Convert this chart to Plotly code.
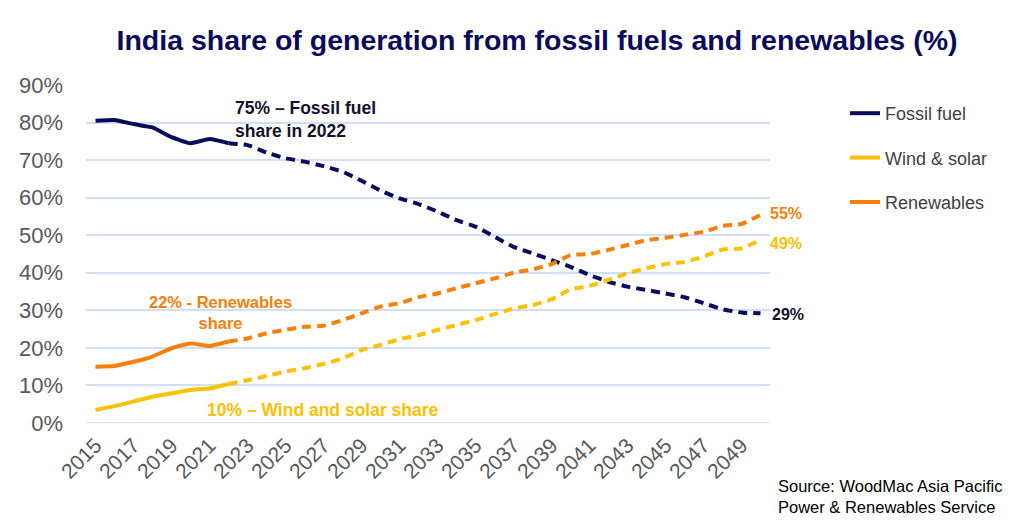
import plotly.graph_objects as go

years = list(range(2015, 2051))
fossil = [80.5, 80.7, 79.6, 78.7, 76.1, 74.5, 75.6, 74.5,
          74.0, 72.0, 70.5, 69.6, 68.4, 66.9, 64.5, 61.9, 59.8, 58.3,
          56.3, 54.0, 52.3, 49.6, 46.9, 45.2, 43.4, 41.6, 39.4, 37.6,
          36.3, 35.4, 34.5, 33.5, 31.9, 30.3, 29.4, 29.2]
wind_solar = [3.5, 4.5, 5.7, 7.0, 7.9, 8.8, 9.2, 10.4,
              11.4, 12.5, 13.7, 14.6, 15.7, 17.2, 19.4, 20.8, 22.3, 23.4,
              24.8, 26.1, 27.4, 29.0, 30.5, 31.4, 32.9, 35.6, 36.5, 38.1,
              39.9, 41.2, 42.3, 42.9, 44.3, 46.2, 46.5, 48.7]
renewables = [15.0, 15.2, 16.3, 17.7, 19.9, 21.2, 20.5, 21.7,
              22.5, 23.9, 24.8, 25.6, 25.9, 27.4, 29.2, 31.0, 31.9, 33.5,
              34.5, 35.9, 37.2, 38.5, 40.0, 40.9, 42.3, 44.7, 45.0, 46.1,
              47.4, 48.7, 49.3, 50.1, 50.9, 52.5, 53.0, 55.4]
series_names = ["Fossil fuel", "Wind & solar", "Renewables"]
tick_years = list(range(2015, 2050, 2))
y_ticks = list(range(0, 91, 10))
y_labels = [f"{v}%" for v in y_ticks]

NAVY = "#0b0b5c"
YELLOW = "#ffc000"
ORANGE = "#f88008"
split = years.index(2022)

# page has an 8px body margin: lay out relative to that offset
OFF = 8
W, H = 1015 - OFF, 531 - OFF
PL, PR, PT, PB = 86 - OFF, 770 - OFF, 85 - OFF, 423 - OFF  # plot area in figure pixels

fig = go.Figure()
for name, vals, col in zip(series_names, [fossil, wind_solar, renewables], [NAVY, YELLOW, ORANGE]):
    fig.add_trace(go.Scatter(
        x=years[:split + 1], y=vals[:split + 1], mode="lines", name=name,
        line=dict(color=col, width=4, shape="spline", smoothing=0.4),
        legendgroup=name, showlegend=True, hoverinfo="skip"))
    fig.add_trace(go.Scatter(
        x=years[split:], y=vals[split:], mode="lines", name=name,
        line=dict(color=col, width=4, dash="9px,6px", shape="spline", smoothing=0.4),
        legendgroup=name, showlegend=False, hoverinfo="skip"))

FONT = "Liberation Sans, Arial, sans-serif"
ann = [
    dict(text="<b>75% – Fossil fuel<br>share in 2022</b>", x=2022.25, y=80.8, xanchor="left",
         yanchor="middle", align="left", font=dict(size=17.5, color="#12122e")),
    dict(text="<b>22% - Renewables<br>share</b>", x=2021.6, y=29.5, xanchor="center",
         yanchor="middle", align="center", font=dict(size=16.5, color=ORANGE)),
    dict(text="<b>10% – Wind and solar share</b>", x=2026.97, y=3.5, xanchor="center",
         yanchor="middle", font=dict(size=17.5, color=YELLOW)),
    dict(text="<b>55%</b>", x=2050.4, y=55.9, xanchor="left", yanchor="middle",
         font=dict(size=16, color=ORANGE)),
    dict(text="<b>49%</b>", x=2050.4, y=47.9, xanchor="left", yanchor="middle",
         font=dict(size=16, color=YELLOW)),
    dict(text="<b>29%</b>", x=2050.5, y=28.8, xanchor="left", yanchor="middle",
         font=dict(size=16, color="#12122e")),
]
for a in ann:
    fig.add_annotation(xref="x", yref="y", showarrow=False, **a)

pw, ph = PR - PL, PB - PT
fig.add_annotation(xref="paper", yref="paper", x=(776 - 86) / pw, y=(423 - 475) / ph,
                   xanchor="left", yanchor="top", align="left", showarrow=False,
                   text="Source: WoodMac Asia Pacific<br>Power & Renewables Service",
                   font=dict(size=16.5, color="#000000", family=FONT))

fig.update_layout(
    width=W, height=H,
    margin=dict(l=PL, r=W - PR, t=PT, b=H - PB, autoexpand=False),
    paper_bgcolor="white", plot_bgcolor="white",
    font=dict(family=FONT, color="#595959"),
    title=dict(text="<b>India share of generation from fossil fuels and renewables (%)</b>",
               x=(537 - OFF) / W, xanchor="center", y=1 - (40 - OFF) / H, yanchor="middle",
               xref="container", yref="container",
               font=dict(size=28.5, color=NAVY, family=FONT)),
    xaxis=dict(range=[2014.5, 2050.5], tickvals=tick_years, ticktext=[str(t) for t in tick_years],
               tickangle=-45, tickfont=dict(size=21, color="#595959"), showgrid=False,
               zeroline=False, showline=False, ticks="", ticklabelstandoff=5),
    yaxis=dict(range=[0, 90], tickvals=y_ticks, ticktext=y_labels, tickfont=dict(size=22, color="#595959"),
               showgrid=True, gridcolor="#cfdff5", gridwidth=1.5, zeroline=False, showline=False,
               ticklabelstandoff=22),
    legend=dict(x=(845 - 86) / pw, y=(423 - 95) / ph, xanchor="left", yanchor="top",
                font=dict(size=18, color="#404040"), tracegroupgap=18,
                bgcolor="rgba(0,0,0,0)"),
    showlegend=True,
)
fig.add_shape(type="line", xref="paper", yref="y", x0=0, x1=1, y0=0, y1=0,
              line=dict(color="#cfdff5", width=1.5), layer="below")

fig.write_html("out.html")
